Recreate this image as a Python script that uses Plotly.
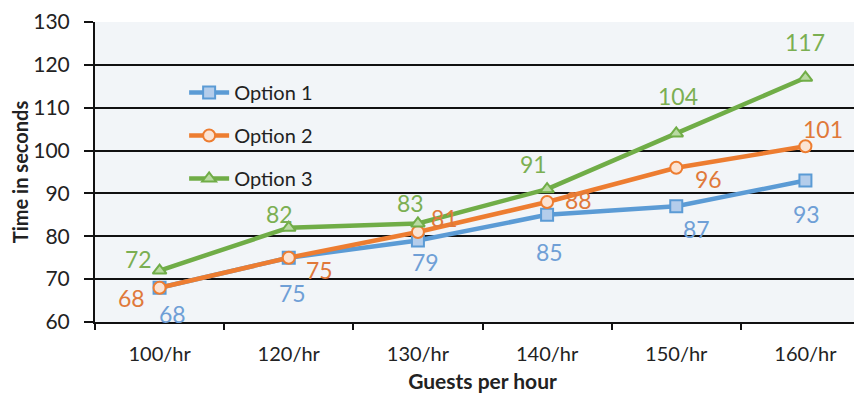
import plotly.graph_objects as go

categories = ["100/hr", "120/hr", "130/hr", "140/hr", "150/hr", "160/hr"]
option1 = [68, 75, 79, 85, 87, 93]
option2 = [68, 75, 81, 88, 96, 101]
option3 = [72, 82, 83, 91, 104, 117]
series_names = ["Option 1", "Option 2", "Option 3"]

# styles
line_colors = ["#5B9BD5", "#ED7D31", "#70AD47"]
fill_colors = ["#B4CDEB", "#FBE3D3", "#B9DAA2"]
label_colors = ["#6F9FD6", "#E0793A", "#7BAF52"]
symbols = ["square", "circle", "triangle-up"]
# label pixel offsets (dx right, dy down)
offsets = [
    [(13, 26), (4, 35), (8, 21), (2, 37), (20, 23), (1, 33)],
    [(-28, 10), (31, 12), (27, -14), (31, -2), (32, 11), (18, -17)],
    [(-21, -12), (-9, -14), (-7, -20), (-14, -25), (2, -37), (0, -36)],
]

FONT = "Lato, Carlito, 'Liberation Sans', sans-serif"

fig = go.Figure()
all_series = [option1, option2, option3]
for i, (name, vals) in enumerate(zip(series_names, all_series)):
    fig.add_trace(go.Scatter(
        x=categories, y=vals, name=name, mode="lines+markers",
        legendgroup=name,
        line=dict(color=line_colors[i], width=4.5),
        marker=dict(symbol=symbols[i], size=12, color=fill_colors[i],
                    line=dict(color=line_colors[i], width=2)),
        hoverinfo="skip",
    ))

annotations = []
for i, vals in enumerate(all_series):
    for j, v in enumerate(vals):
        dx, dy = offsets[i][j]
        annotations.append(dict(
            x=categories[j], y=v, xref="x", yref="y", text=str(v),
            showarrow=False, xshift=dx, yshift=-dy,
            font=dict(family=FONT, size=23, color=label_colors[i]),
        ))

fig.update_layout(
    width=862, height=399,
    margin=dict(l=87, r=0, t=12, b=85),
    paper_bgcolor="white",
    plot_bgcolor="#F2F5F8",
    font=dict(family=FONT, size=20, color="#222222"),
    showlegend=True,
    legend=dict(
        x=0.115, y=0.83, xanchor="left", yanchor="top",
        bgcolor="rgba(0,0,0,0)", font=dict(size=20, color="#222222"),
        tracegroupgap=14, itemwidth=40,
    ),
    annotations=annotations,
    xaxis=dict(
        type="category", range=[-0.5, 5.5],
        showgrid=False, showline=True, linecolor="#111111", linewidth=2,
        ticks="outside", tickson="boundaries", ticklen=6, tickwidth=2,
        tickcolor="#111111", ticklabelstandoff=13,
        tickfont=dict(size=20, color="#222222"),
        title=dict(text="<b>Guests per hour</b>", font=dict(size=21, color="#222222"), standoff=10),
        zeroline=False,
    ),
    yaxis=dict(
        range=[60, 130], dtick=10, tick0=60,
        showgrid=True, gridcolor="#111111", gridwidth=2,
        showline=True, linecolor="#111111", linewidth=2,
        ticks="outside", ticklen=9, tickwidth=2, tickcolor="#111111",
        ticklabelstandoff=10, ticklabeloverflow="allow",
        tickfont=dict(size=21, color="#222222"),
        title=dict(text="<b>Time in seconds</b>", font=dict(size=20, color="#222222"), standoff=10),
        zeroline=False,
    ),
)

fig.write_html("out.html")
